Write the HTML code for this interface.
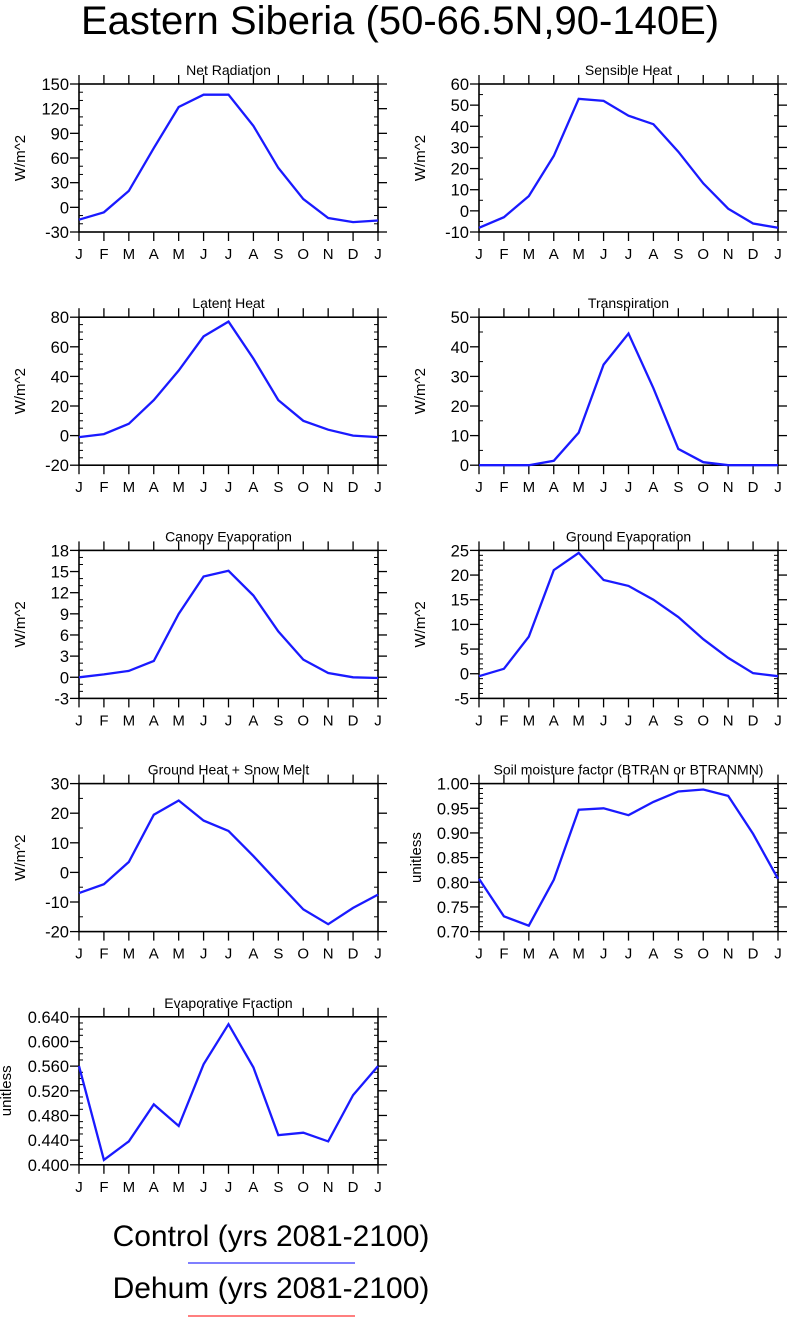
<!DOCTYPE html>
<html><head><meta charset="utf-8"><style>
body{margin:0;background:#fff;}
svg{display:block;font-family:"Liberation Sans",sans-serif;}
</style></head><body>
<svg id="c" width="787" height="1318">
<text x="400" y="34" text-anchor="middle" font-size="40">Eastern Siberia (50-66.5N,90-140E)</text>
<g>
<text x="271" y="1246" text-anchor="middle" font-size="30">Control (yrs 2081-2100)</text>
<line x1="188" y1="1263" x2="355" y2="1263" stroke="#3333ff" stroke-width="1.3"/>
<text x="271" y="1298" text-anchor="middle" font-size="30">Dehum (yrs 2081-2100)</text>
<line x1="188" y1="1316" x2="355" y2="1316" stroke="#ff3333" stroke-width="1.3"/>
</g>
</svg>
<script>
const months=["J","F","M","A","M","J","J","A","S","O","N","D","J"];
const netRad=[-15,-6,20,72,122,137,137,99,48,10,-13,-18,-16];
const sensible=[-8,-3,7,26,53,52,45,41,28,13,1,-6,-8];
const latent=[-1,1,8,24,44,67,77,52,24,10,4,0,-1];
const transp=[0,0,0,1.5,11,34,44.5,26,5.5,1,0,0,0];
const canopy=[0,0.4,0.9,2.3,9,14.3,15.1,11.6,6.5,2.5,0.6,0,-0.1];
const groundEvap=[-0.5,1,7.5,21,24.5,19,17.8,15,11.5,7,3.2,0.1,-0.5];
const groundHeat=[-7,-4,3.5,19.5,24.3,17.5,14,5.5,-3.5,-12.5,-17.5,-12,-7.5];
const btran=[0.807,0.731,0.712,0.805,0.947,0.950,0.936,0.963,0.984,0.988,0.975,0.898,0.807];
const evapFrac=[0.56,0.408,0.438,0.498,0.463,0.563,0.628,0.558,0.448,0.452,0.438,0.513,0.56];
const panelTitles=["Net Radiation","Sensible Heat","Latent Heat","Transpiration","Canopy Evaporation","Ground Evaporation","Ground Heat + Snow Melt","Soil moisture factor (BTRAN or BTRANMN)","Evaporative Fraction"];
const panelUnits=["W/m^2","W/m^2","W/m^2","W/m^2","W/m^2","W/m^2","W/m^2","unitless","unitless"];
const series=[netRad,sensible,latent,transp,canopy,groundEvap,groundHeat,btran,evapFrac];
const yMin=[-30,-10,-20,0,-3,-5,-20,0.70,0.40];
const yMax=[150,60,80,50,18,25,30,1.00,0.64];
const yStep=[30,10,20,10,3,5,10,0.05,0.04];
const yMinorDiv=[3,2,4,2,3,5,2,5,4];
const yDec=[0,0,0,0,0,0,0,2,3];
const yTitleOff=[54,54,54,54,54,54,54,58,68];

const NS="http://www.w3.org/2000/svg";
const svg=document.getElementById('c');
function mk(t,a,p){const e=document.createElementNS(NS,t);for(const k in a)e.setAttribute(k,a[k]);(p||svg).appendChild(e);return e;}
const W=299,H=148;
for(let i=0;i<9;i++){
  const col=i%2,row=Math.floor(i/2);
  const L=col?479:79,T=84+row*233.2,R=L+W,B=T+H;
  const g=mk('g',{});
  
  
  const xs=k=>L+k*W/12;
  const ys=v=>B-(v-yMin[i])/(yMax[i]-yMin[i])*H;
  const t=mk('text',{x:(L+R)/2,y:T-9,'text-anchor':'middle','font-size':14},g);t.textContent=panelTitles[i];
  
  
  const yt=mk('text',{x:0,y:0,'text-anchor':'middle','font-size':15,transform:`translate(${L-yTitleOff[i]},${(T+B)/2}) rotate(-90)`},g);yt.textContent=panelUnits[i];
  
  
  for(let k=0;k<13;k++){
    const x=xs(k);
    mk('line',{x1:x,y1:T-9,x2:x,y2:T,stroke:'#000','stroke-width':1.3},g);
    mk('line',{x1:x,y1:B,x2:x,y2:B+9,stroke:'#000','stroke-width':1.3},g);
    const lt=mk('text',{x:x,y:B+27,'text-anchor':'middle','font-size':15},g);lt.textContent=months[k];
    
    
  }
  const n=Math.round((yMax[i]-yMin[i])/yStep[i]);
  for(let k=0;k<=n;k++){
    const v=yMin[i]+k*yStep[i],y=ys(v);
    mk('line',{x1:L-9,y1:y,x2:L,y2:y,stroke:'#000','stroke-width':1.3},g);
    mk('line',{x1:R,y1:y,x2:R+9,y2:y,stroke:'#000','stroke-width':1.3},g);
    const lt=mk('text',{x:L-10,y:y+6,'text-anchor':'end','font-size':16.5},g);lt.textContent=v.toFixed(yDec[i]);
    
    
    if(k<n){for(let m=1;m<yMinorDiv[i];m++){const yy=ys(v+m*yStep[i]/yMinorDiv[i]);
      mk('line',{x1:L,y1:yy,x2:L+4,y2:yy,stroke:'#000','stroke-width':1},g);
      mk('line',{x1:R-4,y1:yy,x2:R,y2:yy,stroke:'#000','stroke-width':1},g);}}
  }
  mk('rect',{x:L,y:T,width:W,height:H,fill:'none',stroke:'#000','stroke-width':1.6},g);
  const pts=series[i].map((v,k)=>xs(k).toFixed(1)+','+ys(v).toFixed(1)).join(' ');
  const pl=mk('polyline',{points:pts,fill:'none',stroke:'#1a1aff','stroke-width':2.3},g);
  
  
}
</script>
</body></html>
